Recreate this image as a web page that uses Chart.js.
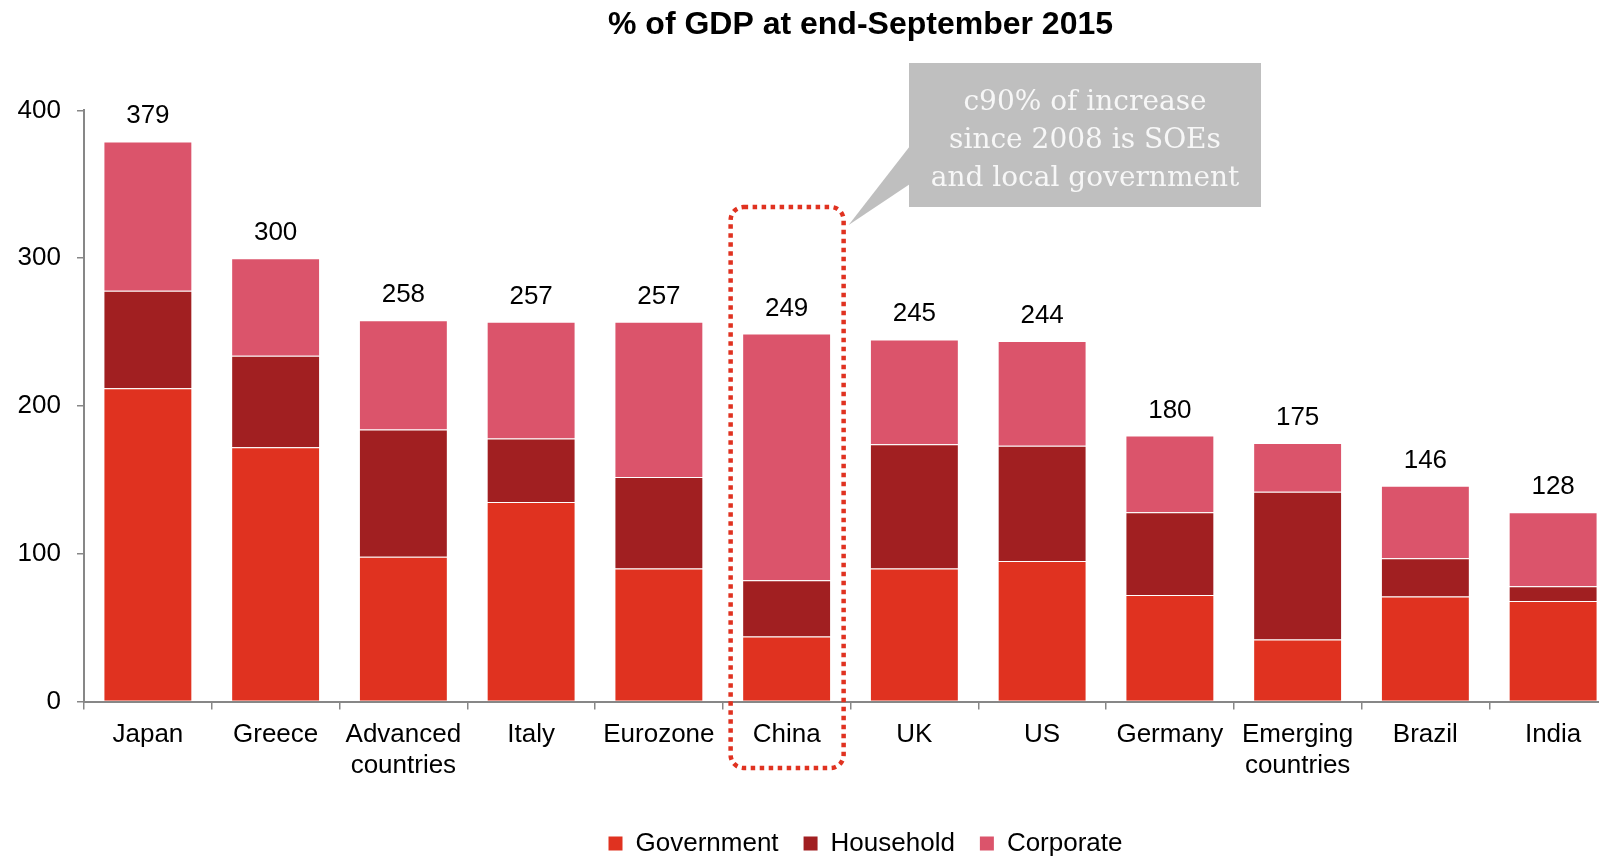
<!DOCTYPE html>
<html>
<head>
<meta charset="utf-8">
<title>Debt by sector, % of GDP</title>
<script src="https://cdn.jsdelivr.net/npm/chart.js@4.4.1/dist/chart.umd.min.js"></script>
<style>
  html, body { margin: 0; padding: 0; background: #fff; overflow: hidden; }
  #wrap { position: relative; width: 1640px; height: 858px; }
</style>
</head>
<body>
<div id="wrap"><canvas id="debtChart"></canvas></div>
<script>
// debt by sector, % of GDP
const countries = ['Japan', 'Greece', ['Advanced', 'countries'], 'Italy', 'Eurozone', 'China', 'UK', 'US', 'Germany', ['Emerging', 'countries'], 'Brazil', 'India'];
const government = [212, 172, 98, 135, 90, 44, 90, 95, 72, 42, 71, 68];
const household  = [66, 62, 86, 43, 62, 38, 84, 78, 56, 100, 26, 10];
const corporate  = [101, 66, 74, 79, 105, 167, 71, 71, 52, 33, 49, 50];
const yTicks = [0, 100, 200, 300, 400];
const highlightIndex = 5; // China
const calloutLines = ['c90% of increase', 'since 2008 is SOEs', 'and local government'];

const axisGrey = '#878787';
const font = 'Liberation Sans';

// stack totals printed above each bar
const totalsPlugin = {
  id: 'totals',
  afterDatasetsDraw(chart) {
    const ctx = chart.ctx;
    const top = chart.getDatasetMeta(chart.data.datasets.length - 1);
    ctx.save();
    ctx.font = '26px "' + font + '"';
    ctx.fillStyle = '#000';
    ctx.textAlign = 'center';
    ctx.textBaseline = 'alphabetic';
    top.data.forEach((bar, i) => {
      const sum = government[i] + household[i] + corporate[i];
      ctx.fillText(String(sum), bar.x, bar.y - 18);
    });
    ctx.restore();
  }
};

// title and legend sit a little right of the plot centre
const nudgePlugin = {
  id: 'nudge',
  afterLayout(chart) {
    chart.titleBlock.left += 10;
    chart.titleBlock.right += 10;
    chart.legend.left += 15;
    chart.legend.right += 15;
  }
};

// grey speech box and dotted frame round China
const calloutPlugin = {
  id: 'callout',
  afterDraw(chart) {
    const ctx = chart.ctx;
    const cx = chart.scales.x.getPixelForValue(highlightIndex);
    ctx.save();

    ctx.fillStyle = '#BFBFBF';
    ctx.fillRect(909, 63, 352, 144);
    ctx.beginPath();
    ctx.moveTo(910, 146);
    ctx.lineTo(910, 184);
    ctx.lineTo(cx + 62, 225);
    ctx.closePath();
    ctx.fill();

    ctx.fillStyle = '#F7F7F7';
    ctx.font = '28px "DejaVu Serif"';
    ctx.textAlign = 'center';
    ctx.textBaseline = 'middle';
    calloutLines.forEach((line, i) => ctx.fillText(line, 1085, 102.5 + i * 38));

    ctx.strokeStyle = '#E03220';
    ctx.lineWidth = 4.5;
    ctx.setLineDash([4.5, 4.5]);
    ctx.beginPath();
    ctx.roundRect(cx - 56, 207, 113, 561, 13);
    ctx.stroke();
    ctx.restore();
  }
};

const ctx = document.getElementById('debtChart');
const chart = new Chart(ctx, {
  type: 'bar',
  data: {
    labels: countries,
    datasets: [
      { label: 'Government', data: government, backgroundColor: '#E03220' },
      { label: 'Household', data: household, backgroundColor: '#A11F21' },
      { label: 'Corporate', data: corporate, backgroundColor: '#DB546B' }
    ]
  },
  options: {
    responsive: true,
    maintainAspectRatio: false,
    animation: false,
    datasets: {
      bar: {
        categoryPercentage: 1,
        barPercentage: 0.696,
        borderWidth: 1,
        borderColor: 'rgba(255,255,255,0.3)'
      }
    },
    layout: { padding: { left: 0, right: 23, top: 0, bottom: -8.5 } },
    scales: {
      x: {
        stacked: true,
        grid: { drawOnChartArea: false, tickLength: 8, color: axisGrey, lineWidth: 1.5 },
        border: { color: axisGrey, width: 2 },
        ticks: {
          color: '#000',
          font: { family: font, size: 26, lineHeight: 1.18 },
          padding: 10,
          maxRotation: 0,
          autoSkip: false
        },
        afterFit(scale) { scale.height = 104; }
      },
      y: {
        stacked: true,
        min: 0,
        max: 400,
        grid: { drawOnChartArea: false, tickLength: 7, color: axisGrey, lineWidth: 1.5 },
        border: { color: axisGrey, width: 2 },
        ticks: {
          color: '#000',
          font: { family: font, size: 26 },
          padding: 16
        },
        afterBuildTicks(scale) { scale.ticks = yTicks.map(v => ({ value: v })); },
        afterFit(scale) { scale.width = 84; }
      }
    },
    plugins: {
      title: {
        display: true,
        text: '% of GDP at end-September 2015',
        fullSize: false,
        color: '#000',
        font: { family: font, size: 32, weight: 'bold' },
        padding: { top: 6, bottom: 66 }
      },
      legend: {
        position: 'bottom',
        fullSize: false,
        labels: {
          color: '#000',
          font: { family: font, size: 26 },
          boxWidth: 14,
          boxHeight: 14,
          padding: 25,
          generateLabels: c => Chart.defaults.plugins.legend.labels.generateLabels(c).map(l => ({ ...l, lineWidth: 0 }))
        }
      },
      tooltip: { enabled: false }
    }
  },
  plugins: [totalsPlugin, nudgePlugin, calloutPlugin]
});
</script>
</body>
</html>
